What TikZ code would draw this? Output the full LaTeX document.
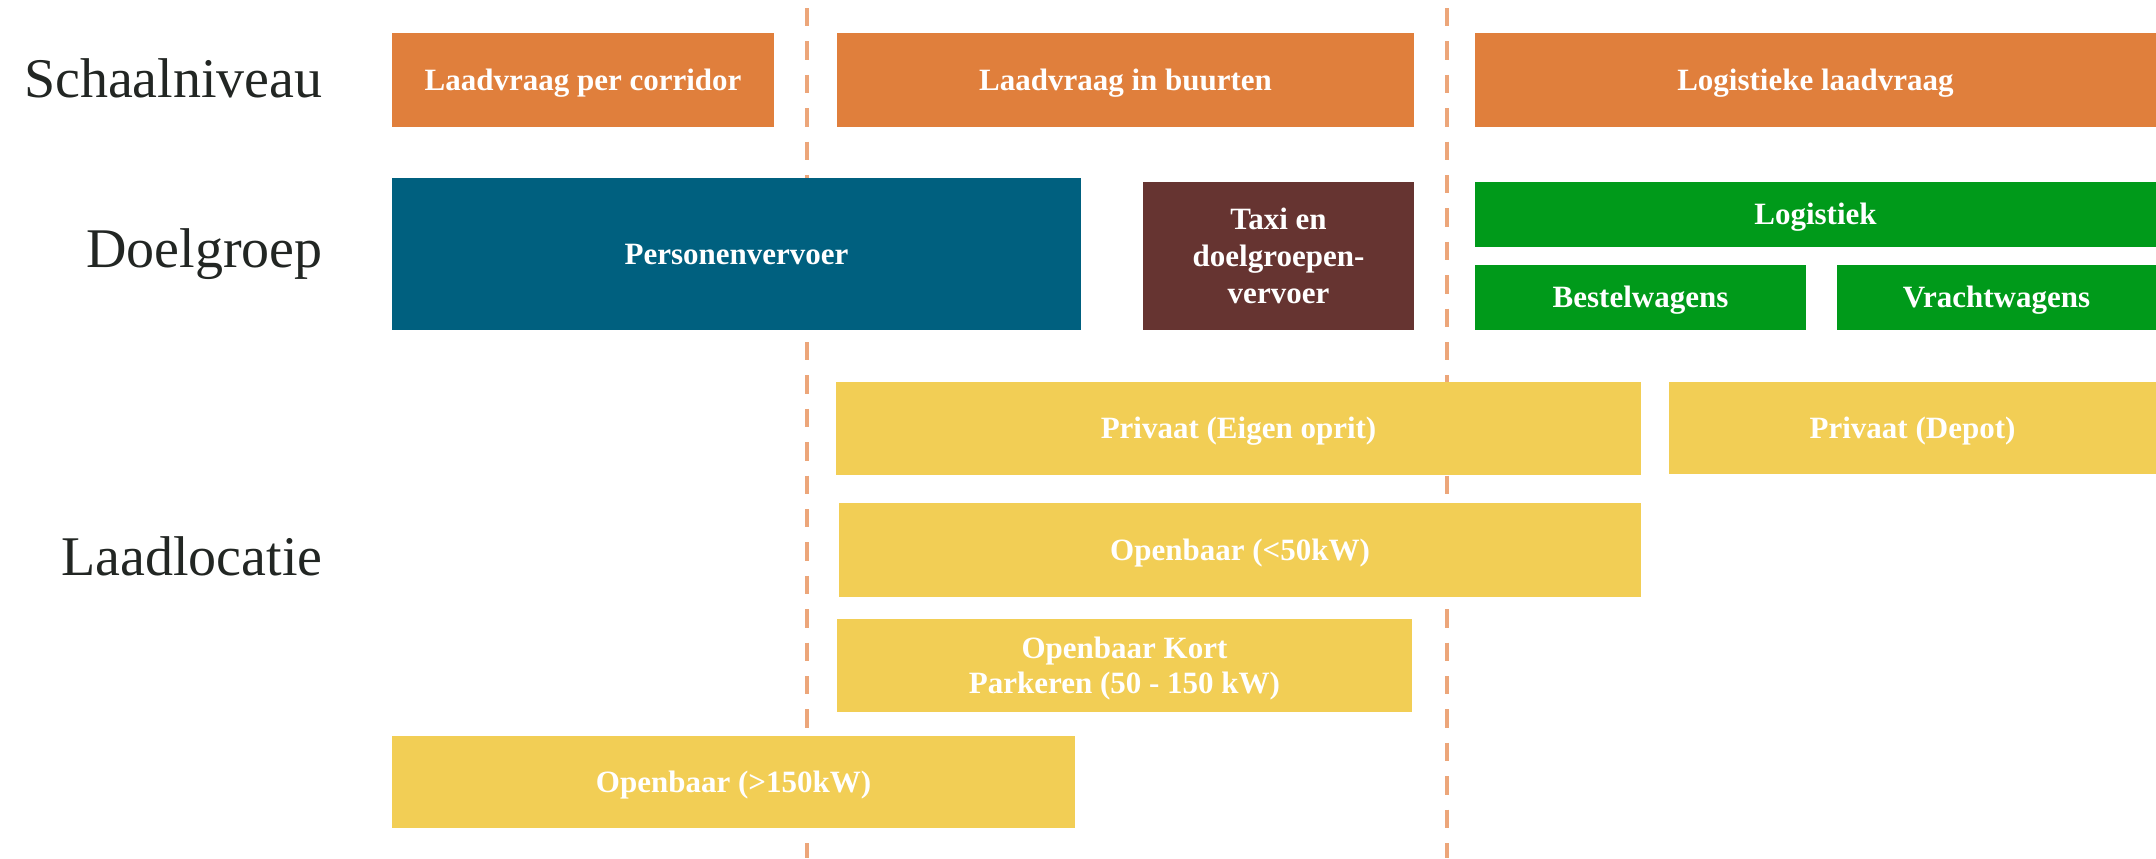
\documentclass[tikz,border=0pt]{standalone}
\usepackage{fontspec}
\setmainfont{Liberation Serif}
\definecolor{orangec}{RGB}{224,127,60}
\definecolor{bluec}{RGB}{0,96,127}
\definecolor{brownc}{RGB}{102,52,49}
\definecolor{greenc}{RGB}{0,154,26}
\definecolor{yellowc}{RGB}{242,206,85}
\definecolor{dividerc}{RGB}{236,166,122}
\definecolor{labelc}{RGB}{34,38,35}
\begin{document}
\begin{tikzpicture}[x=0.5pt,y=-0.5pt,
  box/.style={draw=none, inner sep=0pt, text=white, align=center,
    font=\bfseries\fontsize{15.5}{18.5}\selectfont},
  oneline/.style={box, text height=14pt, text depth=3.8pt},
  rowlabel/.style={anchor=base east, text=labelc, inner sep=0pt,
    font=\fontsize{28}{32}\selectfont},
  divider/.style={draw=dividerc, line width=2.25pt, dash pattern=on 9.2pt off 7.5pt}]
\useasboundingbox (0,0) rectangle (2156,858);
\fill[white] (0,0) rectangle (2156,858);

% dashed dividers
\coordinate (d1t) at (807,8);
\coordinate (d1b) at (807,858);
\coordinate (d2t) at (1447,8);
\coordinate (d2b) at (1447,858);
\draw[divider] (d1t) -- (d1b);
\draw[divider] (d2t) -- (d2b);

% row labels
\node[rowlabel] (lschaal) at (323,97) {Schaalniveau};
\node[rowlabel] (ldoel) at (323,267) {Doelgroep};
\node[rowlabel] (lladen) at (323,575) {Laadlocatie};

% Schaalniveau
\node[oneline, fill=orangec, minimum width=191pt, minimum height=47pt] (corr) at (583,80) {Laadvraag per corridor};
\node[oneline, fill=orangec, minimum width=288.5pt, minimum height=47pt] (buurt) at (1125.5,80) {Laadvraag in buurten};
\node[oneline, fill=orangec, minimum width=340.5pt, minimum height=47pt] (logl) at (1815.5,80) {Logistieke laadvraag};

% Doelgroep
\node[oneline, fill=bluec, minimum width=344.5pt, minimum height=76pt] (pers) at (736.5,254) {Personenvervoer};
\node[box, fill=brownc, minimum width=135.5pt, minimum height=74pt] (taxi) at (1278.5,256) {Taxi en\\doelgroepen-\\vervoer};
\node[oneline, fill=greenc, minimum width=340.5pt, minimum height=32.5pt] (logi) at (1815.5,214.5) {Logistiek};
\node[oneline, fill=greenc, minimum width=165.5pt, minimum height=32.5pt] (bestel) at (1640.5,297.5) {Bestelwagens};
\node[oneline, fill=greenc, minimum width=159.5pt, minimum height=32.5pt] (vracht) at (1996.5,297.5) {Vrachtwagens};

% Laadlocatie
\node[oneline, fill=yellowc, minimum width=402.5pt, minimum height=46.5pt] (eigen) at (1238.5,428.5) {Privaat (Eigen oprit)};
\node[oneline, fill=yellowc, minimum width=243.5pt, minimum height=46pt] (depot) at (1912.5,428) {Privaat (Depot)};
\node[oneline, fill=yellowc, minimum width=401pt, minimum height=47pt] (lt50) at (1240,550) {Openbaar (<50kW)};
\node[box, fill=yellowc, minimum width=287.5pt, minimum height=46.5pt, text depth=0pt, font=\bfseries\fontsize{15.5}{17.5}\selectfont] (kort) at (1124.5,665.5) {Openbaar Kort\\Parkeren (50 - 150 kW)};
\node[oneline, fill=yellowc, minimum width=341.5pt, minimum height=46pt] (gt150) at (733.5,782) {Openbaar (>150kW)};
\end{tikzpicture}
\end{document}
